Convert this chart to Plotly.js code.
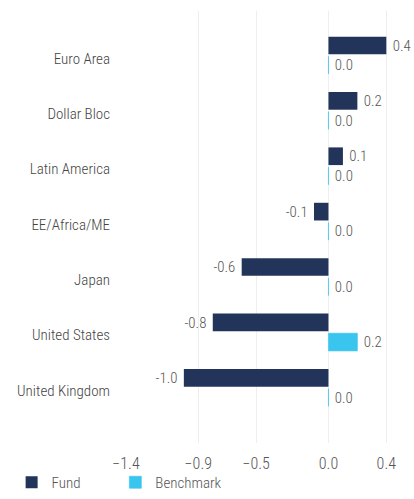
<!DOCTYPE html>
<html>
<head>
<meta charset="utf-8">
<script src="https://cdn.plot.ly/plotly-3.0.1.min.js"></script>
<style>html,body{margin:0;padding:0;background:#fff;}#chart{width:414px;height:499px;}</style>
</head>
<body>
<div id="chart"></div>
<script>
var categories = ['Euro Area', 'Dollar Bloc', 'Latin America', 'EE/Africa/ME', 'Japan', 'United States', 'United Kingdom'];
var fundValues = [0.4, 0.2, 0.1, -0.1, -0.6, -0.8, -1.0];
var benchmarkValues = [0.0, 0.0, 0.0, 0.0, 0.0, 0.2, 0.0];
var tickValues = [-1.4, -0.9, -0.5, 0.0, 0.4];
var tickLabels = ['\u22121.4', '\u22120.9', '\u22120.5', '0.0', '0.4'];

var FONT = '"Roboto Condensed", "DejaVu Sans Condensed", sans-serif';
var NB = '\u00a0';
function lbl(v) { return v >= 0 ? NB + v.toFixed(1) : v.toFixed(1) + NB; }

var data = [
  {
    type: 'bar', orientation: 'h', name: 'Fund', legend: 'legend',
    y: categories, x: fundValues,
    marker: { color: '#22345a', line: { width: 0 } },
    text: fundValues.map(lbl), textposition: 'outside', cliponaxis: false,
    textfont: { family: FONT, size: 16, color: '#555555', weight: 300 },
    hoverinfo: 'x+y'
  },
  {
    type: 'bar', orientation: 'h', name: 'Benchmark', legend: 'legend2',
    y: categories, x: benchmarkValues,
    marker: { color: '#3ac5ee', line: { width: 0.6, color: '#3ac5ee' } },
    text: benchmarkValues.map(lbl), textposition: 'outside', cliponaxis: false,
    textfont: { family: FONT, size: 16, color: '#555555', weight: 300 },
    hoverinfo: 'x+y'
  }
];

var legendBase = {
  orientation: 'h', xref: 'paper', xanchor: 'left',
  yref: 'container', y: -0.045, yanchor: 'bottom',
  bgcolor: 'rgba(0,0,0,0)',
  font: { family: FONT, size: 15, color: '#555555', weight: 300 }
};

var layout = {
  width: 414, height: 499,
  margin: { l: 126, r: 6, t: 11, b: 56 },
  paper_bgcolor: '#ffffff', plot_bgcolor: '#ffffff',
  font: { family: FONT, size: 15, color: '#444444', weight: 300 },
  barmode: 'group', bargap: 0.29, bargroupgap: 0.1,
  showlegend: true,
  legend: Object.assign({}, legendBase, { x: -0.4056 }),
  legend2: Object.assign({}, legendBase, { x: -0.0378 }),
  xaxis: {
    range: [-1.4, 0.55], tickvals: tickValues, ticktext: tickLabels,
    showgrid: true, gridcolor: '#eeeeee', gridwidth: 1,
    zeroline: false, showline: false, ticks: '',
    ticklabelstandoff: 9,
    tickfont: { family: FONT, size: 16, color: '#555555', weight: 300 }
  },
  yaxis: {
    type: 'category', range: [7.0, -0.8],
    showgrid: false, zeroline: false, showline: false, ticks: '',
    ticklabelstandoff: 15, ticklabelshift: -3,
    tickfont: { family: FONT, size: 15, color: '#444444', weight: 300 }
  }
};

Plotly.newPlot('chart', data, layout, { displayModeBar: false, staticPlot: true });
</script>
</body>
</html>
